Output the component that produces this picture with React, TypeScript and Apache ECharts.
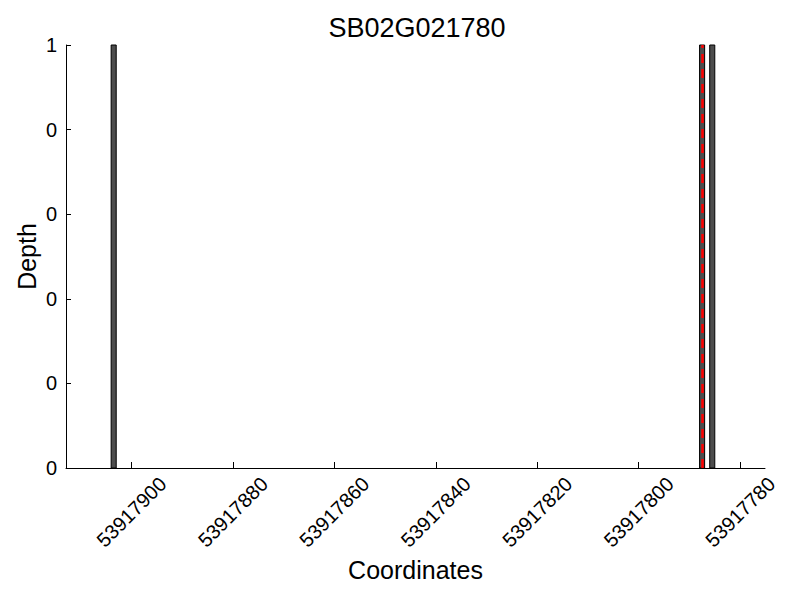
import React, { useEffect, useRef } from "react";
import * as echarts from "echarts";

const titleText = "SB02G021780";
const xTicks = [53917900, 53917880, 53917860, 53917840, 53917820, 53917800, 53917780];
const yTicks = [0, 0.2, 0.4, 0.6, 0.8, 1];
const barCoords = [53917903, 53917787, 53917785];
const barDepths = [1, 1, 1];
const markerCoord = 53917787.5;
const xMin = 53917775.1;
const xMax = 53917912.9;

export default function App() {
  const ref = useRef<HTMLDivElement>(null);
  useEffect(() => {
    if (!ref.current) return;
    const chart = echarts.init(ref.current, undefined, { renderer: "svg" });
    const font = "Liberation Sans, Arial, sans-serif";
    const data = barCoords.map((c, i) => [c, c + 1, barDepths[i]]);
    chart.setOption({
      animation: false,
      backgroundColor: "#ffffff",
      title: {
        text: titleText,
        left: 412,
        top: 9,
        textAlign: "center",
        textStyle: { fontFamily: font, fontSize: 27, fontWeight: "normal", color: "#000" },
      },
      grid: { left: 66, right: 35, top: 45, bottom: 132 },
      xAxis: {
        type: "value",
        inverse: true,
        min: xMin,
        max: xMax,
        name: "Coordinates",
        nameLocation: "middle",
        nameGap: 85,
        nameTextStyle: { fontFamily: font, fontSize: 25, color: "#000" },
        axisLine: { show: true, lineStyle: { color: "#000", width: 1 } },
        axisTick: { show: true, inside: true, length: 6, customValues: xTicks, lineStyle: { color: "#000" } },
        axisLabel: {
          customValues: xTicks,
          rotate: 45,
          align: "center",
          verticalAlign: "middle",
          margin: 44,
          fontFamily: font,
          fontSize: 20,
          color: "#000",
          formatter: (v: number) => String(Math.round(v)),
        },
        splitLine: { show: false },
      },
      yAxis: {
        type: "value",
        min: 0,
        max: 1,
        interval: 0.2,
        name: "Depth",
        nameLocation: "middle",
        nameGap: 27,
        nameMoveOverlap: false,
        nameTextStyle: { fontFamily: font, fontSize: 25, color: "#000" },
        axisLine: { show: true, lineStyle: { color: "#000", width: 1 } },
        axisTick: { show: true, inside: true, length: 5, lineStyle: { color: "#000" } },
        axisLabel: {
          margin: 9,
          fontFamily: font,
          fontSize: 20,
          color: "#000",
          formatter: (v: number) => String(Math.trunc(v + 1e-9)),
        },
        splitLine: { show: false },
      },
      series: [
        {
          type: "custom",
          data,
          renderItem: (params: any, api: any) => {
            const p0 = api.coord([api.value(0), api.value(2)]);
            const p1 = api.coord([api.value(1), 0]);
            const x = Math.min(p0[0], p1[0]);
            const w = Math.abs(p1[0] - p0[0]);
            return {
              type: "rect",
              shape: { x, y: p0[1], width: w, height: p1[1] - p0[1] },
              style: { fill: "#4d4d4d", stroke: "#000", lineWidth: 1 },
            };
          },
          markLine: {
            silent: true,
            symbol: "none",
            label: { show: false },
            lineStyle: { color: "#ff0000", type: [9, 6], width: 2.5 },
            data: [{ xAxis: markerCoord }],
          },
          z: 2,
        },
      ],
    });
    return () => chart.dispose();
  }, []);
  return <div ref={ref} style={{ width: 800, height: 600, position: "absolute", left: 0, top: 0 }} />;
}
